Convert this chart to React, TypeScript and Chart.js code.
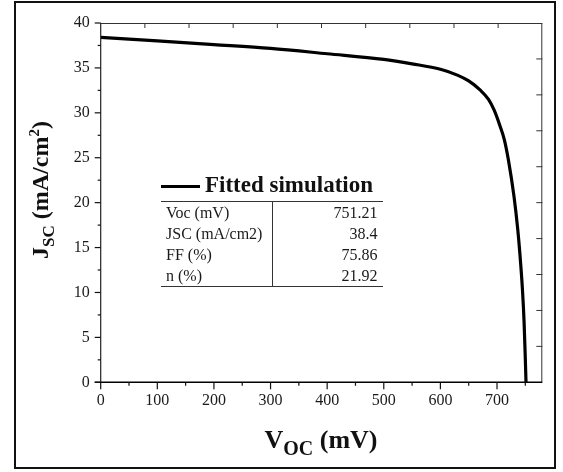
import React, { useEffect, useRef } from "react";
import { Chart, registerables, Plugin } from "chart.js";

Chart.register(...registerables);

// J-V curve of the fitted simulation
const voltage = [
  0, 100, 200, 300, 400, 500, 550, 600, 630, 650, 670, 685, 695, 705, 713,
  720, 730, 736.5, 740.3, 744.8, 747.8, 749.8, 751.21,
];
const currentDensity = [
  38.4, 38.0, 37.6, 37.18, 36.58, 35.95, 35.45, 34.85, 34.2, 33.55, 32.55,
  31.5, 30.3, 28.6, 27.0, 24.8, 20.7, 17.1, 14.4, 10.47, 6.75, 3.04, 0,
];

// Axis ranges and tick steps
const xRange = [0, 780];
const yRange = [0, 40];
const xMajorStep = 100;
const xMinorStep = 50;
const yMajorStep = 5;
const yMinorStep = 2.5;
const mirrorDivisions = 10;

// Device parameters shown in the inset table
const paramNames = ["Voc (mV)", "JSC (mA/cm2)", "FF (%)", "n (%)"];
const paramValues = ["751.21", "38.4", "75.86", "21.92"];
const seriesName = "Fitted simulation";

const SERIF = "'Liberation Serif', 'Times New Roman', serif";

// Draws the axis frame with outward major/minor ticks on the left and bottom
// and inward mirror ticks on the top and right.
const framePlugin: Plugin<"line"> = {
  id: "frame",
  afterDraw(chart) {
    const { ctx, chartArea } = chart;
    const xs = chart.scales.x;
    const ys = chart.scales.y;
    const { left, right, top, bottom } = chartArea;
    ctx.save();
    ctx.lineCap = "butt";

    const seg = (x1: number, y1: number, x2: number, y2: number) => {
      ctx.beginPath();
      ctx.moveTo(x1, y1);
      ctx.lineTo(x2, y2);
      ctx.stroke();
    };

    // top and right frame lines
    ctx.strokeStyle = "#333";
    ctx.lineWidth = 1;
    seg(left, top + 0.5, right, top + 0.5);
    seg(right - 0.5, top, right - 0.5, bottom);

    // left axis line
    ctx.strokeStyle = "#222";
    ctx.lineWidth = 1.2;
    seg(left, top, left, bottom);

    // bottom axis line
    ctx.strokeStyle = "#000";
    ctx.lineWidth = 1.6;
    seg(left - 6, bottom, right, bottom);

    // x ticks (outward)
    ctx.lineWidth = 1.2;
    ctx.strokeStyle = "#111";
    for (let v = xRange[0]; v <= xRange[1] + 1e-6; v += xMinorStep) {
      const px = xs.getPixelForValue(v);
      const major = Math.abs(v % xMajorStep) < 1e-6;
      seg(px, bottom, px, bottom + (major ? 7 : 3.5));
    }
    // y ticks (outward)
    for (let v = yRange[0]; v <= yRange[1] + 1e-6; v += yMinorStep) {
      const py = ys.getPixelForValue(v);
      const major = Math.abs(v % yMajorStep) < 1e-6;
      seg(left, py, left - (major ? 6 : 3), py);
    }

    // mirror ticks (inward)
    ctx.strokeStyle = "#333";
    ctx.lineWidth = 1;
    for (let k = 1; k < mirrorDivisions; k++) {
      const px = left + ((right - left) * k) / mirrorDivisions;
      seg(px, top, px, top + 5);
      const py = bottom - ((bottom - top) * k) / mirrorDivisions;
      seg(right, py, right - 6, py);
    }
    ctx.restore();
  },
};

function JVChart() {
  const canvasRef = useRef<HTMLCanvasElement | null>(null);

  useEffect(() => {
    const canvas = canvasRef.current;
    if (!canvas) return;
    const chart = new Chart(canvas, {
      type: "line",
      data: {
        datasets: [
          {
            label: seriesName,
            data: voltage.map((v, i) => ({ x: v, y: currentDensity[i] })),
            borderColor: "#000",
            borderWidth: 3.2,
            pointRadius: 0,
            fill: false,
            cubicInterpolationMode: "monotone",
          },
        ],
      },
      options: {
        animation: false,
        responsive: false,
        devicePixelRatio: 1,
        events: [],
        layout: {
          autoPadding: false,
          padding: { left: 0, right: 20.7, top: 23, bottom: 29.7 },
        },
        plugins: {
          legend: { display: false },
          tooltip: { enabled: false },
          title: { display: false },
        },
        scales: {
          x: {
            type: "linear",
            position: "bottom",
            min: xRange[0],
            max: xRange[1],
            grid: { display: false, drawTicks: false },
            border: { display: false },
            ticks: {
              stepSize: xMajorStep,
              includeBounds: false,
              autoSkip: false,
              maxRotation: 0,
              padding: 9,
              color: "#1a1a1a",
              font: { family: SERIF, size: 16 },
            },
            afterFit: (s: any) => {
              s.height = 60;
            },
          },
          y: {
            type: "linear",
            position: "left",
            min: yRange[0],
            max: yRange[1],
            grid: { display: false, drawTicks: false },
            border: { display: false },
            ticks: {
              stepSize: yMajorStep,
              includeBounds: false,
              padding: 11,
              color: "#1a1a1a",
              font: { family: SERIF, size: 16 },
            },
            afterFit: (s: any) => {
              s.width = 100.7;
            },
          },
        },
      },
      plugins: [framePlugin],
    });
    return () => chart.destroy();
  }, []);

  return (
    <canvas
      ref={canvasRef}
      width={563}
      height={472}
      style={{ position: "absolute", left: 0, top: 0, width: 563, height: 472 }}
    />
  );
}

export default function App() {
  const rowH = 21;
  return (
    <div
      style={{
        position: "absolute",
        left: 0,
        top: 0,
        width: 563,
        height: 472,
        background: "#fff",
        fontFamily: SERIF,
        color: "#111",
      }}
    >
      <JVChart />

      {/* outer frame */}
      <div
        style={{
          position: "absolute",
          left: 14,
          top: 1,
          width: 542,
          height: 468,
          boxSizing: "border-box",
          border: "2.5px solid #111",
          pointerEvents: "none",
        }}
      />

      {/* y-axis title */}
      <div
        style={{
          position: "absolute",
          left: 39.5 - 120,
          top: 190 - 12,
          width: 240,
          height: 24,
          lineHeight: 1,
          fontSize: 24,
          fontWeight: "bold",
          textAlign: "center",
          whiteSpace: "nowrap",
          transform: "rotate(-90deg)",
        }}
      >
        J
        <span style={{ fontSize: 17, position: "relative", top: 6 }}>SC</span>{" "}
        (mA/cm
        <span style={{ fontSize: 15, position: "relative", top: -9 }}>2</span>)
      </div>

      {/* x-axis title */}
      <div
        style={{
          position: "absolute",
          left: 321 - 200,
          top: 426.5,
          width: 400,
          lineHeight: 1,
          fontSize: 26,
          fontWeight: "bold",
          textAlign: "center",
          whiteSpace: "nowrap",
        }}
      >
        V<span style={{ fontSize: 20, position: "relative", top: 7 }}>OC</span>{" "}
        (mV)
      </div>

      {/* legend entry */}
      <div
        style={{
          position: "absolute",
          left: 161,
          top: 185,
          width: 39,
          height: 3.2,
          background: "#000",
        }}
      />
      <div
        style={{
          position: "absolute",
          left: 205,
          top: 173,
          lineHeight: 1,
          fontSize: 23,
          fontWeight: "bold",
          whiteSpace: "nowrap",
        }}
      >
        {seriesName}
      </div>

      {/* parameter table */}
      <div
        style={{
          position: "absolute",
          left: 161,
          top: 201,
          width: 222,
          height: rowH * paramNames.length,
          borderTop: "1.2px solid #333",
          borderBottom: "1.2px solid #333",
          fontSize: 16,
          color: "#1a1a1a",
        }}
      >
        <div
          style={{
            position: "absolute",
            left: 111,
            top: 0,
            width: 1,
            height: "100%",
            background: "#333",
          }}
        />
        {paramNames.map((name, i) => (
          <div
            key={name}
            style={{
              position: "absolute",
              left: 0,
              top: i * rowH,
              width: 222,
              height: rowH,
              lineHeight: `${rowH}px`,
              whiteSpace: "nowrap",
            }}
          >
            <span style={{ position: "absolute", left: 5 }}>{name}</span>
            <span style={{ position: "absolute", right: 5.5 }}>
              {paramValues[i]}
            </span>
          </div>
        ))}
      </div>
    </div>
  );
}
